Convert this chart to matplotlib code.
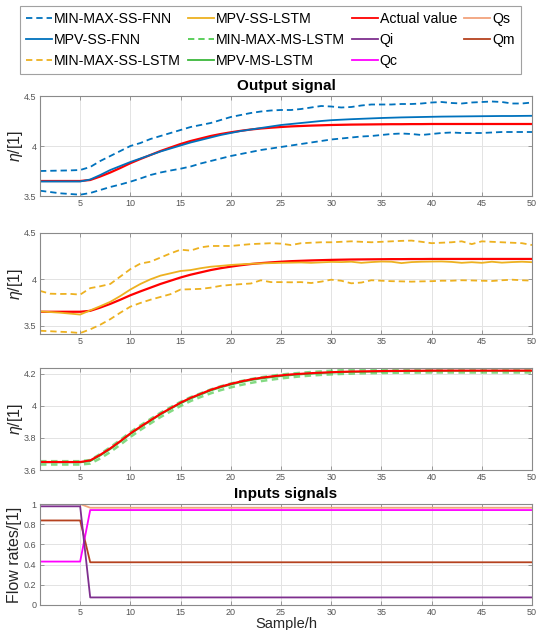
import matplotlib
matplotlib.use("Agg")
import matplotlib.pyplot as plt
from matplotlib.lines import Line2D
from matplotlib.ticker import FuncFormatter

plt.rcParams['font.family'] = ['Liberation Sans', 'DejaVu Sans']
plt.rcParams['mathtext.fontset'] = 'custom'
plt.rcParams['mathtext.it'] = 'Liberation Sans:italic'

samples = list(range(1, 51))

actual = [3.650, 3.650, 3.650, 3.650, 3.650, 3.660, 3.695, 3.735, 3.780, 3.828,
          3.870, 3.910, 3.950, 3.985, 4.020, 4.050, 4.075, 4.100, 4.120, 4.137,
          4.152, 4.165, 4.175, 4.183, 4.190, 4.196, 4.200, 4.204, 4.207, 4.210,
          4.212, 4.214, 4.215, 4.216, 4.217, 4.218, 4.218, 4.219, 4.219, 4.220,
          4.220, 4.220, 4.220, 4.220, 4.220, 4.220, 4.220, 4.220, 4.220, 4.220]

mpv_ss_fnn = [3.645, 3.645, 3.645, 3.645, 3.645, 3.665, 3.710, 3.760, 3.800, 3.840,
              3.875, 3.910, 3.945, 3.975, 4.005, 4.035, 4.060, 4.085, 4.110, 4.130,
              4.150, 4.165, 4.180, 4.195, 4.210, 4.220, 4.230, 4.240, 4.250, 4.258,
              4.263, 4.268, 4.272, 4.276, 4.280, 4.283, 4.286, 4.288, 4.290, 4.292,
              4.294, 4.295, 4.296, 4.297, 4.298, 4.299, 4.300, 4.300, 4.301, 4.302]

max_ss_fnn = [3.750, 3.752, 3.754, 3.756, 3.760, 3.790, 3.850, 3.900, 3.950, 4.000,
              4.030, 4.070, 4.100, 4.130, 4.160, 4.190, 4.210, 4.230, 4.260, 4.290,
              4.310, 4.330, 4.345, 4.355, 4.360, 4.360, 4.370, 4.385, 4.400, 4.395,
              4.385, 4.390, 4.405, 4.415, 4.415, 4.415, 4.420, 4.420, 4.425, 4.435,
              4.440, 4.430, 4.425, 4.435, 4.440, 4.445, 4.440, 4.425, 4.425, 4.435]

min_ss_fnn = [3.553, 3.540, 3.527, 3.520, 3.513, 3.530, 3.560, 3.590, 3.615, 3.643,
              3.675, 3.710, 3.735, 3.755, 3.773, 3.795, 3.825, 3.850, 3.875, 3.900,
              3.920, 3.940, 3.960, 3.975, 3.990, 4.005, 4.020, 4.035, 4.050, 4.065,
              4.075, 4.085, 4.095, 4.100, 4.110, 4.120, 4.125, 4.120, 4.110, 4.120,
              4.130, 4.135, 4.130, 4.130, 4.130, 4.135, 4.140, 4.140, 4.140, 4.140]

mpv_ss_lstm = [3.654, 3.647, 3.640, 3.630, 3.620, 3.665, 3.710, 3.757, 3.820, 3.890,
               3.950, 4.000, 4.040, 4.065, 4.090, 4.100, 4.120, 4.136, 4.145, 4.155,
               4.162, 4.168, 4.172, 4.175, 4.178, 4.180, 4.182, 4.178, 4.183, 4.188,
               4.186, 4.190, 4.178, 4.186, 4.192, 4.190, 4.175, 4.186, 4.190, 4.192,
               4.193, 4.188, 4.178, 4.185, 4.178, 4.190, 4.180, 4.186, 4.190, 4.185]

max_ss_lstm = [3.875, 3.845, 3.842, 3.843, 3.835, 3.905, 3.925, 3.950, 4.030, 4.110,
               4.170, 4.190, 4.235, 4.280, 4.320, 4.310, 4.345, 4.360, 4.360, 4.360,
               4.370, 4.380, 4.385, 4.390, 4.385, 4.370, 4.390, 4.395, 4.400, 4.400,
               4.405, 4.410, 4.405, 4.400, 4.405, 4.410, 4.415, 4.418, 4.405, 4.390,
               4.395, 4.400, 4.410, 4.380, 4.410, 4.405, 4.400, 4.395, 4.390, 4.370]

min_ss_lstm = [3.445, 3.440, 3.434, 3.430, 3.420, 3.460, 3.510, 3.570, 3.640, 3.705,
               3.745, 3.780, 3.810, 3.840, 3.890, 3.893, 3.897, 3.910, 3.930, 3.940,
               3.948, 3.955, 3.990, 3.970, 3.970, 3.968, 3.970, 3.960, 3.975, 3.996,
               3.985, 3.957, 3.965, 3.990, 3.985, 3.980, 3.978, 3.975, 3.978, 3.980,
               3.985, 3.985, 3.990, 3.988, 3.985, 3.982, 3.990, 3.996, 3.990, 3.986]

mpv_ms_lstm = [3.647, 3.647, 3.647, 3.647, 3.647, 3.655, 3.690, 3.730, 3.776, 3.824,
               3.866, 3.906, 3.946, 3.981, 4.015, 4.045, 4.070, 4.095, 4.115, 4.132,
               4.147, 4.160, 4.170, 4.178, 4.185, 4.191, 4.196, 4.200, 4.204, 4.207,
               4.209, 4.211, 4.212, 4.213, 4.214, 4.215, 4.216, 4.216, 4.217, 4.217,
               4.217, 4.218, 4.218, 4.218, 4.218, 4.218, 4.218, 4.218, 4.218, 4.218]

max_ms_lstm = [3.655, 3.655, 3.655, 3.655, 3.655, 3.662, 3.700, 3.742, 3.788, 3.836,
               3.878, 3.918, 3.957, 3.991, 4.025, 4.054, 4.078, 4.102, 4.122, 4.139,
               4.154, 4.167, 4.178, 4.187, 4.195, 4.201, 4.206, 4.211, 4.215, 4.219,
               4.222, 4.224, 4.226, 4.228, 4.229, 4.230, 4.230, 4.231, 4.231, 4.231,
               4.232, 4.232, 4.232, 4.232, 4.232, 4.232, 4.232, 4.232, 4.232, 4.232]

min_ms_lstm = [3.634, 3.634, 3.634, 3.634, 3.634, 3.640, 3.672, 3.712, 3.758, 3.806,
               3.850, 3.890, 3.930, 3.965, 3.999, 4.030, 4.055, 4.078, 4.098, 4.115,
               4.130, 4.143, 4.154, 4.163, 4.171, 4.178, 4.184, 4.189, 4.193, 4.196,
               4.199, 4.201, 4.203, 4.204, 4.205, 4.206, 4.207, 4.207, 4.208, 4.208,
               4.208, 4.208, 4.208, 4.208, 4.208, 4.208, 4.208, 4.208, 4.208, 4.208]

qs = [1.0] * 5 + [0.963] * 45
qi = [0.977] * 5 + [0.075] * 45
qm = [0.837] * 5 + [0.423] * 45
qc = [0.430] * 5 + [0.940] * 45

C_BLUE = '#0072BD'
C_ORANGE = '#EDB120'
C_RED = '#FF0000'
C_GREEN_D = '#4FCB4F'
C_GREEN = '#3CB83C'
C_QS = '#F2A37C'
C_QI = '#7E2F8E'
C_QM = '#B5421F'
C_QC = '#FF00FF'

fig = plt.figure(figsize=(5.36, 6.30), dpi=100)

W, H = 536, 630
def add_ax(top, bottom, left=40, right=532):
    return fig.add_axes([left / W, 1 - bottom / H, (right - left) / W, (bottom - top) / H])

ax1 = add_ax(96, 196)
ax2 = add_ax(233, 334)
ax3 = add_ax(368, 470)
ax4 = add_ax(504, 605)

dash = (3.5, 2.2)
lw = 1.3

# Panel 1
ax1.plot(samples, max_ss_fnn, color=C_BLUE, lw=lw, ls='--', dashes=dash)
ax1.plot(samples, min_ss_fnn, color=C_BLUE, lw=lw, ls='--', dashes=dash)
ax1.plot(samples, actual, color=C_RED, lw=1.6)
ax1.plot(samples, mpv_ss_fnn, color=C_BLUE, lw=lw)
ax1.set_ylim(3.5, 4.5)
ax1.set_yticks([3.5, 4, 4.5])

# Panel 2
ax2.plot(samples, max_ss_lstm, color=C_ORANGE, lw=lw, ls='--', dashes=dash)
ax2.plot(samples, min_ss_lstm, color=C_ORANGE, lw=lw, ls='--', dashes=dash)
ax2.plot(samples, actual, color=C_RED, lw=1.6)
ax2.plot(samples, mpv_ss_lstm, color=C_ORANGE, lw=lw)
ax2.set_ylim(3.41, 4.5)
ax2.set_yticks([3.5, 4, 4.5])

# Panel 3
ax3.plot(samples, max_ms_lstm, color=C_GREEN_D, lw=1.8, ls='--', dashes=(2.6, 1.8), alpha=0.7)
ax3.plot(samples, min_ms_lstm, color=C_GREEN_D, lw=1.8, ls='--', dashes=(2.6, 1.8), alpha=0.7)
ax3.plot(samples, mpv_ms_lstm, color=C_GREEN, lw=1.2)
ax3.plot(samples, actual, color=C_RED, lw=1.5)
ax3.set_ylim(3.6, 4.236)
ax3.set_yticks([3.6, 3.8, 4, 4.2])

# Panel 4
ax4.plot(samples, qs, color=C_QS, lw=lw)
ax4.plot(samples, qm, color=C_QM, lw=lw)
ax4.plot(samples, qc, color=C_QC, lw=lw)
ax4.plot(samples, qi, color=C_QI, lw=lw)
ax4.set_ylim(0, 1)
ax4.set_yticks([0, 0.2, 0.4, 0.6, 0.8, 1])

fmt = FuncFormatter(lambda v, p: ('%g' % v))
for ax in (ax1, ax2, ax3, ax4):
    ax.set_xlim(1, 50)
    ax.set_xticks(range(5, 51, 5))
    ax.xaxis.set_major_formatter(fmt)
    ax.yaxis.set_major_formatter(fmt)
    ax.grid(True, color='#e3e3e3', lw=0.7)
    ax.set_axisbelow(True)
    for s in ax.spines.values():
        s.set_color('#8a8a8a')
        s.set_linewidth(0.8)
    ax.tick_params(direction='in', length=3, width=0.6, color='#8a8a8a',
                   labelsize=6.5, labelcolor='#555555', top=True, right=True, pad=2.5)

ax4.tick_params(axis='x', pad=2)

for ax in (ax1, ax2, ax3):
    ax.set_ylabel(r'$\it{\eta}$/[1]', fontsize=11.5, color='#262626')
    ax.yaxis.set_label_coords(-0.03, 0.5)

ax4.set_ylabel('Flow rates/[1]', fontsize=11.5, color='#262626')
ax4.yaxis.set_label_coords(-0.036, 0.5)
ax4.set_xlabel('Sample/h', fontsize=10.5, color='#262626', labelpad=0)

ax1.set_title('Output signal', fontsize=11, fontweight='bold', pad=4)
ax4.set_title('Inputs signals', fontsize=11, fontweight='bold', pad=4)

handles = [
    Line2D([], [], color=C_BLUE, lw=lw, ls='--', dashes=dash),
    Line2D([], [], color=C_BLUE, lw=lw),
    Line2D([], [], color=C_ORANGE, lw=lw, ls='--', dashes=dash),
    Line2D([], [], color=C_ORANGE, lw=lw),
    Line2D([], [], color=C_GREEN_D, lw=lw, ls='--', dashes=dash),
    Line2D([], [], color=C_GREEN, lw=lw),
    Line2D([], [], color=C_RED, lw=lw),
    Line2D([], [], color=C_QI, lw=lw),
    Line2D([], [], color=C_QC, lw=lw),
    Line2D([], [], color=C_QS, lw=lw),
    Line2D([], [], color=C_QM, lw=lw),
]
labels = ['MIN-MAX-SS-FNN', 'MPV-SS-FNN', 'MIN-MAX-SS-LSTM', 'MPV-SS-LSTM',
          'MIN-MAX-MS-LSTM', 'MPV-MS-LSTM', 'Actual value', 'Qi', 'Qc', 'Qs', 'Qm']

leg = fig.legend(handles, labels, loc='upper left', bbox_to_anchor=(20 / W, 1 - 6 / H),
                 ncol=4, fontsize=10.2, handlelength=1.85, handletextpad=0.12,
                 columnspacing=0.5, labelspacing=0.5, borderpad=0.42,
                 fancybox=False, frameon=True, borderaxespad=0)
leg.get_frame().set_edgecolor('#8a8a8a')
leg.get_frame().set_linewidth(0.8)

fig.savefig('out.png', dpi=100)
